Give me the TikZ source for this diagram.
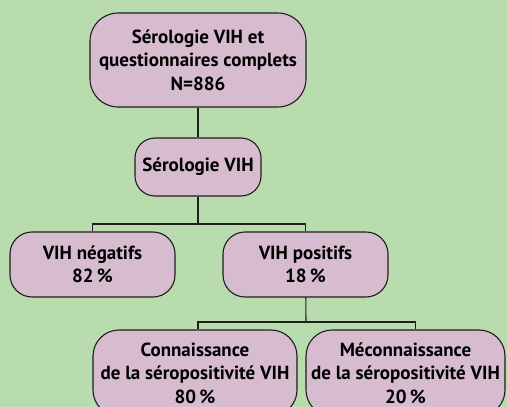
\documentclass[tikz,border=0pt]{standalone}
\usepackage{fontspec}
\setmainfont{PT Sans}
\definecolor{bg}{RGB}{185,220,174}
\definecolor{boxfill}{RGB}{214,188,206}
\definecolor{edge}{RGB}{30,30,30}
\begin{document}
\begin{tikzpicture}[x=1pt,y=-1pt,
  box/.style={draw=edge,fill=boxfill,line width=1.1pt,rounded corners=#1,align=center,
    inner sep=0pt,font=\fontsize{19}{23.5}\selectfont\bfseries},
  box/.default=20pt,
  link/.style={draw=edge,line width=1.1pt}]
\clip (0,0) rectangle (507,407);
\fill[bg] (0,0) rectangle (507,407);
\node[box=28pt,minimum width=216pt,minimum height=94pt] (top) at (198,60)
  {Sérologie VIH et\\questionnaires complets\\N=886};
\node[box=20pt,minimum width=126pt,minimum height=58pt] (sero) at (198,167)
  {Sérologie VIH};
\node[box=22pt,minimum width=165pt,minimum height=65pt] (neg) at (92.5,264.5)
  {VIH négatifs\\82\,\%};
\node[box=22pt,minimum width=165pt,minimum height=65pt] (pos) at (305.5,264.5)
  {VIH positifs\\18\,\%};
\node[box=26pt,minimum width=204pt,minimum height=86pt] (con) at (195,373)
  {Connaissance\\de la séropositivité VIH\\80\,\%};
\node[box=26pt,minimum width=199pt,minimum height=86pt] (mec) at (405.5,373)
  {Méconnaissance\\de la séropositivité VIH\\20\,\%};
\coordinate (j1) at (198,224);
\coordinate (j2) at (306,322);
\path[link] (top) -- (sero);
\path[link] (sero) -- (j1);
\path[link] (j1) -| (neg.north);
\path[link] (j1) -| (pos.north);
\path[link] (pos) -- (j2);
\path[link] (j2) -| ([xshift=3pt]con.north);
\path[link] (j2) -| ([xshift=10pt]mec.north);
\end{tikzpicture}
\end{document}
